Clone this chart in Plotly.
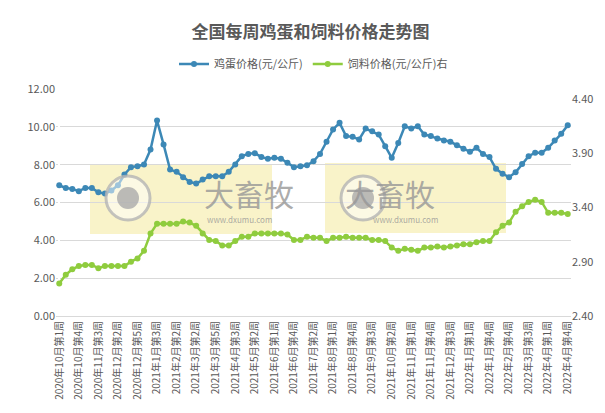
import plotly.graph_objects as go

tick_labels = ["2020年10月第1周","2020年10月第4周","2020年11月第3周","2020年12月第2周","2020年12月第5周",
"2021年1月第3周","2021年2月第2周","2021年3月第2周","2021年3月第5周","2021年4月第3周","2021年5月第2周",
"2021年6月第1周","2021年6月第4周","2021年7月第2周","2021年8月第1周","2021年8月第4周","2021年9月第3周",
"2021年10月第2周","2021年11月第1周","2021年11月第4周","2021年12月第3周","2022年1月第1周","2022年1月第4周",
"2022年2月第4周","2022年3月第3周","2022年4月第1周","2022年4月第4周"]

egg = [6.91,6.77,6.72,6.60,6.77,6.77,6.54,6.47,6.63,6.91,7.48,7.87,7.92,8.01,8.80,10.33,9.07,7.74,7.62,7.34,
7.09,7.00,7.21,7.39,7.39,7.39,7.62,8.01,8.45,8.57,8.61,8.40,8.31,8.36,8.31,8.10,7.87,7.92,7.97,
8.18,8.57,9.21,9.86,10.21,9.51,9.47,9.33,9.91,9.77,9.59,8.98,8.36,9.15,10.03,9.91,10.03,9.59,9.51,9.38,
9.28,9.21,9.03,8.84,8.68,8.89,8.57,8.40,7.78,7.52,7.34,7.60,8.04,8.45,8.63,8.63,8.89,9.28,9.63,10.09]

feed = [2.70,2.78,2.83,2.86,2.87,2.87,2.84,2.86,2.86,2.86,2.86,2.90,2.93,3.00,3.16,3.25,3.25,3.25,3.25,3.27,
3.26,3.23,3.16,3.10,3.09,3.05,3.05,3.09,3.13,3.13,3.16,3.16,3.16,3.16,3.16,3.15,3.10,3.10,3.13,
3.12,3.12,3.09,3.12,3.12,3.13,3.12,3.12,3.12,3.10,3.10,3.09,3.03,3.00,3.02,3.01,3.00,3.03,3.03,3.04,
3.03,3.04,3.05,3.06,3.06,3.08,3.09,3.09,3.17,3.23,3.26,3.36,3.41,3.45,3.47,3.45,3.35,3.35,3.35,3.34]

x = list(range(len(egg)))
BLUE = "#3c88b6"
GREEN = "#8fcc3e"
GREY = "#595959"

fig = go.Figure()
fig.add_trace(go.Scatter(x=x, y=egg, name="鸡蛋价格(元/公斤)", mode="lines+markers",
    line=dict(color=BLUE, width=2.5), marker=dict(size=6, color=BLUE)))
fig.add_trace(go.Scatter(x=x, y=feed, name="饲料价格(元/公斤)右", mode="lines+markers", yaxis="y2",
    line=dict(color=GREEN, width=2.5), marker=dict(size=6, color=GREEN)))

L, R, T, B = 48, 42, 81, 105
W, H = 605, 413
pw, ph = W - L - R, H - T - B
def px(v): return (v - L) / pw
def py(v): return (H - B - v) / ph

shapes, annos = [], []
for (x0, x1, y0, y1) in [(82, 264, 157, 226), (317, 498, 155, 225)]:
    shapes.append(dict(type="rect", xref="paper", yref="paper", x0=px(x0), x1=px(x1), y0=py(y1), y1=py(y0),
                       fillcolor="rgba(240,225,120,0.4)", line=dict(width=0), layer="below"))
    cx = x0 + 38
    shapes.append(dict(type="circle", xref="paper", yref="paper", x0=px(cx - 22), x1=px(cx + 22),
                       y0=py(212), y1=py(168), line=dict(color="rgba(180,180,180,0.8)", width=3),
                       fillcolor="rgba(255,255,255,0.5)"))
    shapes.append(dict(type="circle", xref="paper", yref="paper", x0=px(cx - 11), x1=px(cx + 11),
                       y0=py(201), y1=py(179), line=dict(width=0), fillcolor="rgba(170,170,170,0.8)"))
    annos.append(dict(xref="paper", yref="paper", x=px(x0 + 112), y=py(185), text="大畜牧", showarrow=False,
                      font=dict(size=30, color="rgba(150,150,150,0.8)", family="Noto Sans CJK SC")))
    annos.append(dict(xref="paper", yref="paper", x=px(x0 + 115), y=py(211), text="www.dxumu.com", showarrow=False,
                      font=dict(size=8, color="rgba(150,150,150,0.8)")))

fig.update_layout(
    width=W, height=H, margin=dict(l=L, r=R, t=T, b=B),
    plot_bgcolor="white", paper_bgcolor="white",
    font=dict(family="Noto Sans CJK SC", color=GREY, size=11),
    title=dict(text="<b>全国每周鸡蛋和饲料价格走势图</b>", x=0.5, xanchor="center", y=0.955,
               font=dict(size=17, color=GREY)),
    legend=dict(orientation="h", x=0.5, xanchor="center", y=1.11, yanchor="middle", font=dict(size=11)),
    xaxis=dict(tickmode="array", tickvals=x[::3], ticktext=tick_labels, tickangle=-90, range=[-0.5, 78.5],
               showgrid=False, showline=True, linecolor="#d9d9d9", tickfont=dict(size=10), ticks="",
               automargin=False),
    yaxis=dict(range=[0, 12], dtick=2, tickformat=".2f", gridcolor="#d9d9d9", zeroline=False,
               tickfont=dict(size=11), automargin=False),
    yaxis2=dict(overlaying="y", side="right", range=[2.40, 4.49], tickvals=[2.4, 2.9, 3.4, 3.9, 4.4],
                tickformat=".2f", showgrid=False, zeroline=False, tickfont=dict(size=11), automargin=False),
    shapes=shapes, annotations=annos,
)
fig.write_html("out.html")
